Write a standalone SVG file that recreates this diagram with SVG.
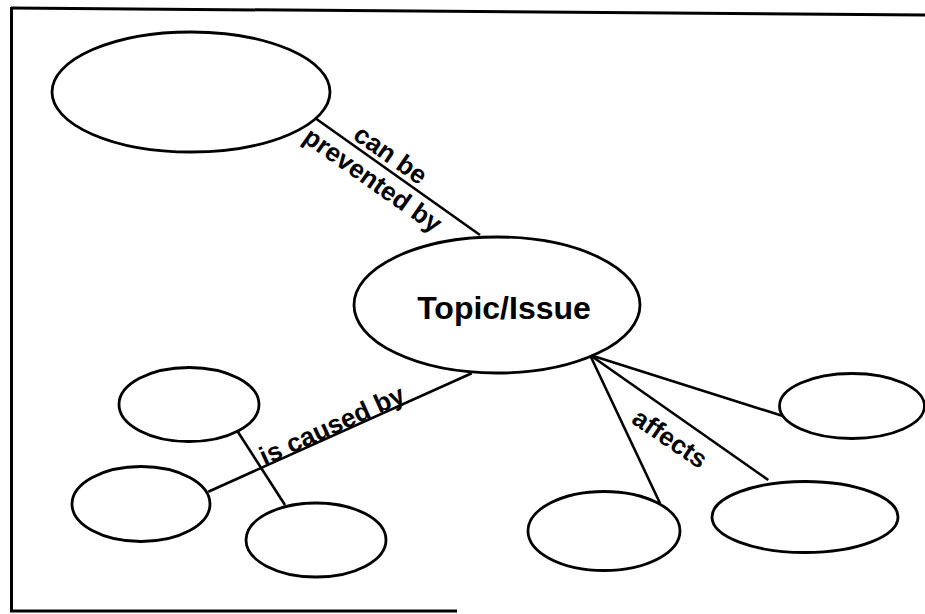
<svg xmlns="http://www.w3.org/2000/svg" width="925" height="614" viewBox="0 0 925 614">
  <style>
    .node { fill: #ffffff; stroke: #000000; stroke-width: 2.8; }
    .edge { stroke: #000000; stroke-width: 2.6; fill: none; stroke-linecap: butt; }
    .frame { stroke: #000000; stroke-width: 3; fill: none; }
    .lbl { font-family: "Liberation Sans", Arial, sans-serif; font-weight: bold; font-size: 26px; fill: #000000; }
    .title { font-family: "Liberation Sans", Arial, sans-serif; font-weight: bold; font-size: 32px; fill: #000000; }
  </style>
  <rect width="925" height="614" fill="#ffffff"/>
  <g id="frame">
    <line class="frame" x1="11" y1="8" x2="925" y2="15"/>
    <line class="frame" x1="11.5" y1="7" x2="11.5" y2="612"/>
    <line class="frame" x1="10" y1="611" x2="457" y2="611"/>
  </g>
  <g id="connectors">
    <line class="edge" x1="315" y1="118" x2="480" y2="235"/>
    <line class="edge" x1="471.7" y1="373.3" x2="208.3" y2="491.7"/>
    <line class="edge" x1="236.7" y1="430" x2="285" y2="505"/>
    <line class="edge" x1="590" y1="355" x2="660" y2="503.3"/>
    <line class="edge" x1="590" y1="355" x2="768.3" y2="480"/>
    <line class="edge" x1="590" y1="355" x2="790" y2="418.3"/>
    <text class="lbl" text-anchor="middle" transform="translate(385.6,161.9) rotate(35)">can be</text>
    <text class="lbl" text-anchor="middle" transform="translate(367.7,187.2) rotate(35)">prevented by</text>
    <text class="lbl" text-anchor="middle" transform="translate(335.6,433.4) rotate(-24.5)">is caused by</text>
    <text class="lbl" text-anchor="middle" transform="translate(665,445.8) rotate(34)">affects</text>
  </g>
  <g id="node-prevention">
    <ellipse class="node" cx="191" cy="92" rx="139" ry="60"/>
  </g>
  <g id="node-topic">
    <ellipse class="node" cx="497" cy="305" rx="143" ry="68"/>
    <text class="title" x="504" y="319" text-anchor="middle">Topic/Issue</text>
  </g>
  <g id="node-cause-1">
    <ellipse class="node" cx="189" cy="404.5" rx="70" ry="37"/>
  </g>
  <g id="node-cause-2">
    <ellipse class="node" cx="141" cy="504" rx="69" ry="37.5"/>
  </g>
  <g id="node-cause-3">
    <ellipse class="node" cx="316" cy="540" rx="70" ry="37"/>
  </g>
  <g id="node-effect-1">
    <ellipse class="node" cx="604" cy="531" rx="76" ry="39.5"/>
  </g>
  <g id="node-effect-2">
    <ellipse class="node" cx="805" cy="517" rx="93" ry="35.5"/>
  </g>
  <g id="node-effect-3">
    <ellipse class="node" cx="852" cy="406" rx="72.5" ry="32.5"/>
  </g>
</svg>
